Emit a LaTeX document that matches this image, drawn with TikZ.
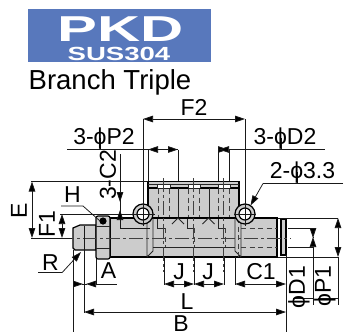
\documentclass[tikz,border=0pt]{standalone}
\usepackage{fontspec}
\setmainfont{Liberation Sans}
\usetikzlibrary{arrows.meta}
\newcommand{\ph}{\symbol{"03D5}}
\definecolor{bann}{HTML}{5878BC}
\definecolor{bodyg}{HTML}{CCCCCC}
\tikzset{
  lbl/.style={inner sep=0pt,font=\fontsize{23}{23}\selectfont,text=black},
  thin line/.style={line width=0.75pt,draw=black!90},
  outl/.style={line width=1.2pt,draw=black},
  inner/.style={line width=0.75pt,draw=black!85},
  hid/.style={line width=0.8pt,draw=black!75,dash pattern=on 5pt off 3.5pt},
  centerl/.style={line width=0.7pt,draw=black!75,dash pattern=on 14pt off 3pt on 3pt off 3pt},
  tip/.style={-{Triangle[length=10pt,width=6.5pt,fill=black]}},
  dimin/.style={thin line,{Triangle[length=10pt,width=6.5pt,fill=black]}-{Triangle[length=10pt,width=6.5pt,fill=black]}},
  dimout/.style={thin line,{Triangle[length=10pt,width=6.5pt,fill=black,reversed]}-{Triangle[length=10pt,width=6.5pt,fill=black,reversed]}},
}
\begin{document}
\begin{tikzpicture}[x=1pt,y=-1pt]
\useasboundingbox (0,0) rectangle (350,332);
\fill[white] (0,0) rectangle (350,332);
% banner
\fill[bann] (28,9) rectangle (211,62);
\node[inner sep=0pt,anchor=base,text=white,xscale=1.66,font=\fontsize{36}{36}\selectfont\bfseries] (pkd) at (120.5,41) {PKD};
\node[inner sep=0pt,anchor=base,text=white,xscale=1.45,font=\fontsize{19}{19}\selectfont\bfseries] (sus) at (119,60) {SUS304};
\node[inner sep=0pt,anchor=base west,font=\fontsize{27.5}{27.5}\selectfont] (title) at (28.5,89) {Branch Triple};
% body fills
\fill[bodyg] (148,188) rectangle (239,218);
\filldraw[fill=bodyg,outl] (148,181.5) rectangle (239,188);
\fill[white] (157,184.5) rectangle (170,188) (188,184.5) rectangle (200,188) (218,184.5) rectangle (230,188);
\draw[inner] (148,184.5) -- (239,184.5);
\foreach \x in {157,170,188,200,218,230} \draw[inner] (\x,184.5) -- (\x,188);
\draw[outl] (148,188) -- (148,218) (239,188) -- (239,218);
\foreach \x in {178,209} \draw[inner] (\x,188) -- (\x,218);
\foreach \x in {158,169,188,199,218,229} \draw[hid] (\x,189) -- (\x,217);
% main body
\filldraw[fill=bodyg,outl] (110,218) -- (277,218) -- (277,257) -- (110,257) -- cycle;
\filldraw[fill=bodyg,outl] (96,225) -- (80,225) -- (73,228) -- (73,248) -- (75,250) -- (96,250) -- cycle;
\filldraw[fill=bodyg,outl,rounded corners=2pt] (96,216) rectangle (110,259);
\draw[inner] (96,226) -- (110,226) (96,248) -- (110,248);
\fill[black] (103,221) circle (3.6);
% internals
\draw[inner] (147,218) -- (147,257) (153,218) -- (153,251) -- (147,257);
\draw[inner] (235,218) -- (235,251) -- (241,257) (241,218) -- (241,257);
\draw[hid] (238,218) -- (238,257);
\draw[inner] (153,247) -- (235,247);
\foreach \a/\b in {157/165,187/194,218/225} \draw[inner] (\a,219) -- (\a,228) -- (\b,228);
\foreach \x in {178,208.5} \draw[inner] (\x-6,224) -- (\x,218) -- (\x+6,224);
\draw[hid] (165,228) -- (165,247) (194,228) -- (194,247) (225,228) -- (225,247);
\draw[hid] (241,228) -- (277,228) (241,247) -- (277,247);
\fill[bodyg] (281,219) rectangle (286,255);
\draw[outl] (281,219) rectangle (286,255);
% centre lines
\draw[centerl] (60,238) -- (291,238);
\foreach \x in {163.5,193.5,223.5} \draw[centerl] (\x,178) -- (\x,272);
% circles
\foreach \n/\x in {cl/143,cr/245}{
  \filldraw[fill=bodyg,outl] (\x,214) circle (10);
  \filldraw[fill=white,outl] (\x,214) circle (6);
}
% extension lines
\draw[thin line] (143,119) -- (143,226) (245,119) -- (245,226);
\draw[thin line] (148,149.5) -- (148,181) (178,149.5) -- (178,181);
\draw[thin line] (218,149.5) -- (218,181) (229,149.5) -- (229,181);
\draw[thin line] (132,214) -- (155,214) (234,214) -- (256,214);
\draw[thin line] (31,181.5) -- (148,181.5);
\draw[thin line] (60,214) -- (133,214);
\draw[thin line] (31,238) -- (72,238);
\draw[thin line] (120,154) -- (120,228) -- (150,228);
\draw[thin line] (96,259) -- (96,285);
\draw[thin line] (73,250) -- (73,332);
\draw[thin line] (84,226) -- (84,313);
\draw[thin line] (286,255) -- (286,332);
\draw[thin line] (235,257) -- (235,285);
\draw[thin line] (164,257) -- (164,285) (194,257) -- (194,285) (224,257) -- (224,285);
\draw[thin line] (278,218) -- (338,218) (278,257) -- (338,257);
\draw[thin line] (288,228) -- (313,228) (288,247) -- (313,247);
% dimensions
\draw[dimin] (143,119) -- (245,119);
\draw[thin line] (67,149.5) -- (178,149.5);
\draw[dimin] (148,149.5) -- (178,149.5);
\draw[thin line] (229,149.5) -- (325,149.5);
\draw[dimout] (218,149.5) -- (229,149.5);
\draw[thin line] (343,183.5) -- (263,183.5);
\draw[thin line,tip] (263,183.5) -- (250.5,205.5);
\draw[dimout] (120,192) -- (120,220);
\draw[dimin] (32,181.5) -- (32,238);
\draw[dimin] (62,214) -- (62,238);
\draw[thin line] (61,206) -- (83,206) -- (100,221);
\draw[thin line] (38,272.7) -- (62,272.7);
\draw[thin line,tip] (62,272.7) -- (81,252);
\draw[dimout] (73,284) -- (96,284);
\draw[thin line] (96,284) -- (117,284);
\draw[dimin] (84,312) -- (286,312);
\draw[dimin] (164,284) -- (194,284);
\draw[dimin] (194,284) -- (224,284);
\draw[dimin] (235,284) -- (286,284);
\draw[dimout] (313,228) -- (313,247);
\draw[thin line] (313,247) -- (313,305);
\draw[dimin] (338,218) -- (338,257);
\draw[thin line] (338,257) -- (338,305);
\draw[thin line] (293,298.7) -- (313,298.7) (318,298.7) -- (338,298.7);
\draw[thin line] (100,138) -- (100,149.5);
\draw[thin line] (281,138) -- (281,149.5);
\draw[thin line] (297,172) -- (297,183.5);
% labels
\node[lbl] (f2) at (194,107) {F2};
\node[lbl,anchor=base] (p2) at (104,144) {3-\ph P2};
\node[lbl,anchor=base] (d2) at (285,144) {3-\ph D2};
\node[lbl,anchor=base] (d33) at (302.5,178) {2-\ph 3.3};
\node[lbl,rotate=90] (c2) at (108,175) {3-C2};
\node[lbl] (h) at (72.5,194.5) {H};
\node[lbl,rotate=90] (e) at (19,211) {E};
\node[lbl,rotate=90] (f1) at (47,224) {F1};
\node[lbl] (r) at (50.5,263) {R};
\node[lbl] (a) at (108.5,271) {A};
\node[lbl] (j1) at (179,272) {J};
\node[lbl] (j2) at (208,272) {J};
\node[lbl] (c1) at (261,272) {C1};
\node[lbl] (l) at (187,302) {L};
\node[lbl,anchor=base] (b) at (181,331.5) {B};
\node[lbl,rotate=90] (d1) at (299,287) {\ph D1};
\node[lbl,rotate=90] (p1) at (325,286) {\ph P1};
\end{tikzpicture}
\end{document}
